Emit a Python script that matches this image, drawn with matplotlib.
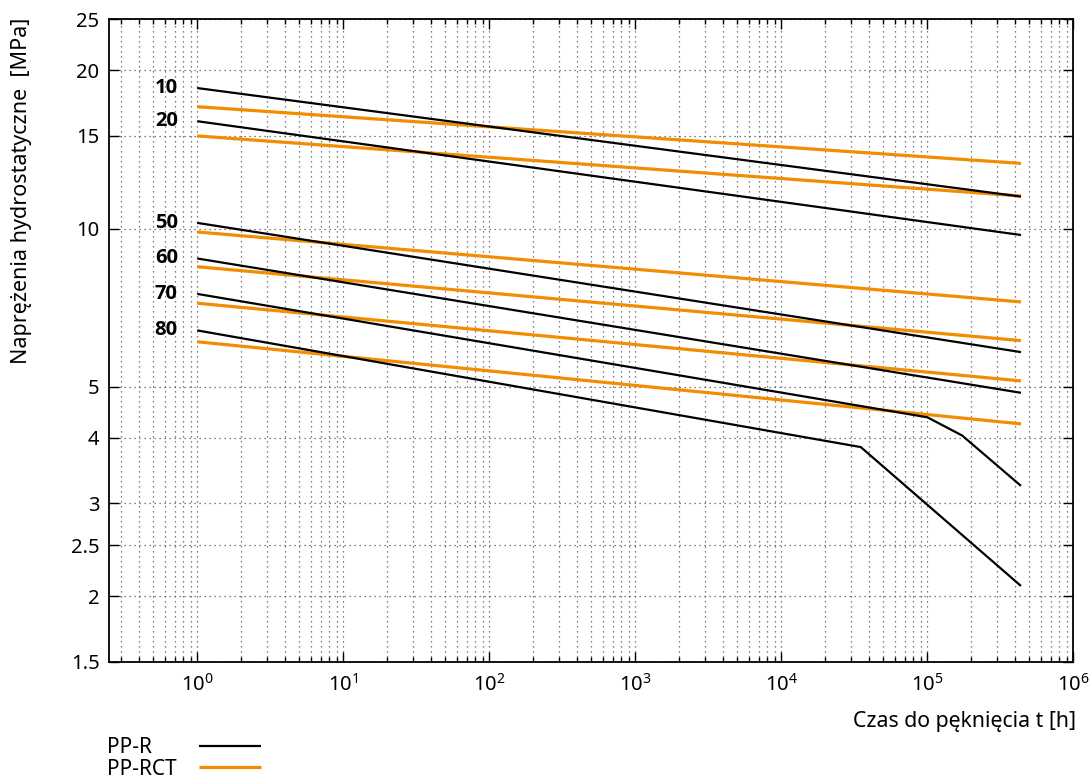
import matplotlib
matplotlib.use("Agg")
import matplotlib.pyplot as plt
from matplotlib.lines import Line2D
from matplotlib.ticker import LogLocator, FixedLocator, FixedFormatter, NullLocator, LogFormatterSciNotation

plt.rcParams['font.family'] = ['Noto Sans', 'DejaVu Sans']
plt.rcParams['mathtext.fontset'] = 'custom'
plt.rcParams['mathtext.rm'] = 'Noto Sans'
plt.rcParams['mathtext.it'] = 'Noto Sans'
plt.rcParams['mathtext.bf'] = 'Noto Sans:bold'

# ---- data ----
temperatures = ["10", "20", "50", "60", "70", "80"]

# PP-R (black)
pp_r_10_t = [1, 438000]
pp_r_10_s = [18.5, 11.5]
pp_r_20_t = [1, 438000]
pp_r_20_s = [16.0, 9.72]
pp_r_50_t = [1, 438000]
pp_r_50_s = [10.25, 5.82]
pp_r_60_t = [1, 438000]
pp_r_60_s = [8.77, 4.87]
pp_r_70_t = [1, 100000, 173000, 438000]
pp_r_70_s = [7.51, 4.375, 4.04, 3.24]
pp_r_80_t = [1, 35000, 438000]
pp_r_80_s = [6.40, 3.84, 2.09]

# PP-RCT (orange)
pp_rct_t = [1, 438000]
pp_rct_10_s = [17.05, 13.3]
pp_rct_20_s = [15.0, 11.53]
pp_rct_50_s = [9.85, 7.25]
pp_rct_60_s = [8.46, 6.12]
pp_rct_70_s = [7.21, 5.13]
pp_rct_80_s = [6.09, 4.25]

y_ticks = [1.5, 2, 2.5, 3, 4, 5, 10, 15, 20, 25]
y_tick_labels = ["1.5", "2", "2.5", "3", "4", "5", "10", "15", "20", "25"]
legend_labels = ["PP-R", "PP-RCT"]

BLACK = "#000000"
ORANGE = "#f28c00"

W, H = 1091, 775
fig = plt.figure(figsize=(W / 100, H / 100), dpi=100)
ax = fig.add_axes([0.1002, 0.1462, 0.9838 - 0.1002, 0.9751 - 0.1462])
ax.set_xscale("log")
ax.set_yscale("log")
ax.set_xlim(0.25, 1e6)
ax.set_ylim(1.5, 25)

black_series = [(pp_r_10_t, pp_r_10_s), (pp_r_20_t, pp_r_20_s), (pp_r_50_t, pp_r_50_s),
                (pp_r_60_t, pp_r_60_s), (pp_r_70_t, pp_r_70_s), (pp_r_80_t, pp_r_80_s)]
orange_series = [pp_rct_10_s, pp_rct_20_s, pp_rct_50_s, pp_rct_60_s, pp_rct_70_s, pp_rct_80_s]

LW_R, LW_RCT = 1.6, 2.3
for s in orange_series:
    ax.plot(pp_rct_t, s, color=ORANGE, lw=LW_RCT, zorder=3, solid_capstyle='butt')
for t, s in black_series:
    ax.plot(t, s, color=BLACK, lw=LW_R, zorder=4, solid_capstyle='butt')

for (t, s), lab in zip(black_series, temperatures):
    ax.annotate(lab, xy=(t[0], s[0]), xytext=(-14, 0), textcoords="offset points",
                ha="right", va="center", fontsize=14.5, fontweight="bold",
                family=["Open Sans", "DejaVu Sans"])

# ticks
ax.xaxis.set_major_locator(LogLocator(base=10, numticks=20))
ax.xaxis.set_minor_locator(LogLocator(base=10, subs=range(2, 10), numticks=20))
ax.xaxis.set_major_formatter(LogFormatterSciNotation())
ax.yaxis.set_major_locator(FixedLocator(y_ticks))
ax.yaxis.set_major_formatter(FixedFormatter(y_tick_labels))
ax.yaxis.set_minor_locator(NullLocator())

ax.tick_params(which="both", direction="in", top=True, right=True, colors="black", labelsize=14.5)
ax.tick_params(which="major", length=7, width=1.0)
ax.tick_params(which="minor", length=3.8, width=1.0)
ax.tick_params(axis="x", which="major", pad=9)
ax.tick_params(axis="y", which="major", pad=7)

grid_style = dict(color="#555555", linestyle=(0, (1, 3)), linewidth=0.9)
ax.grid(True, which="major", axis="both", **grid_style)
ax.grid(True, which="minor", axis="x", **grid_style)
ax.set_axisbelow(True)

for sp in ax.spines.values():
    sp.set_linewidth(1.3)

fig.text(22 / W, 1 - 191 / H, "Naprężenia hydrostatyczne  [MPa]", rotation=90,
         ha="center", va="center", fontsize=15.5)
fig.text(1076 / W, 1 - 721 / H, "Czas do pęknięcia t [h]", ha="right", va="center", fontsize=15.3)

# legend (gnuplot-style, below the plot)
leg_baselines = [753, 775]
leg_line_y = [745.7, 767.3]
for lab, yb, yl, col, lw in zip(legend_labels, leg_baselines, leg_line_y, [BLACK, ORANGE], [LW_R, LW_RCT]):
    fig.text(107 / W, 1 - yb / H, lab, ha="left", va="baseline", fontsize=15)
    fig.add_artist(Line2D([199 / W, 261 / W], [1 - yl / H, 1 - yl / H], color=col, lw=lw,
                          transform=fig.transFigure, solid_capstyle='butt'))

fig.savefig("out.png", dpi=100)
